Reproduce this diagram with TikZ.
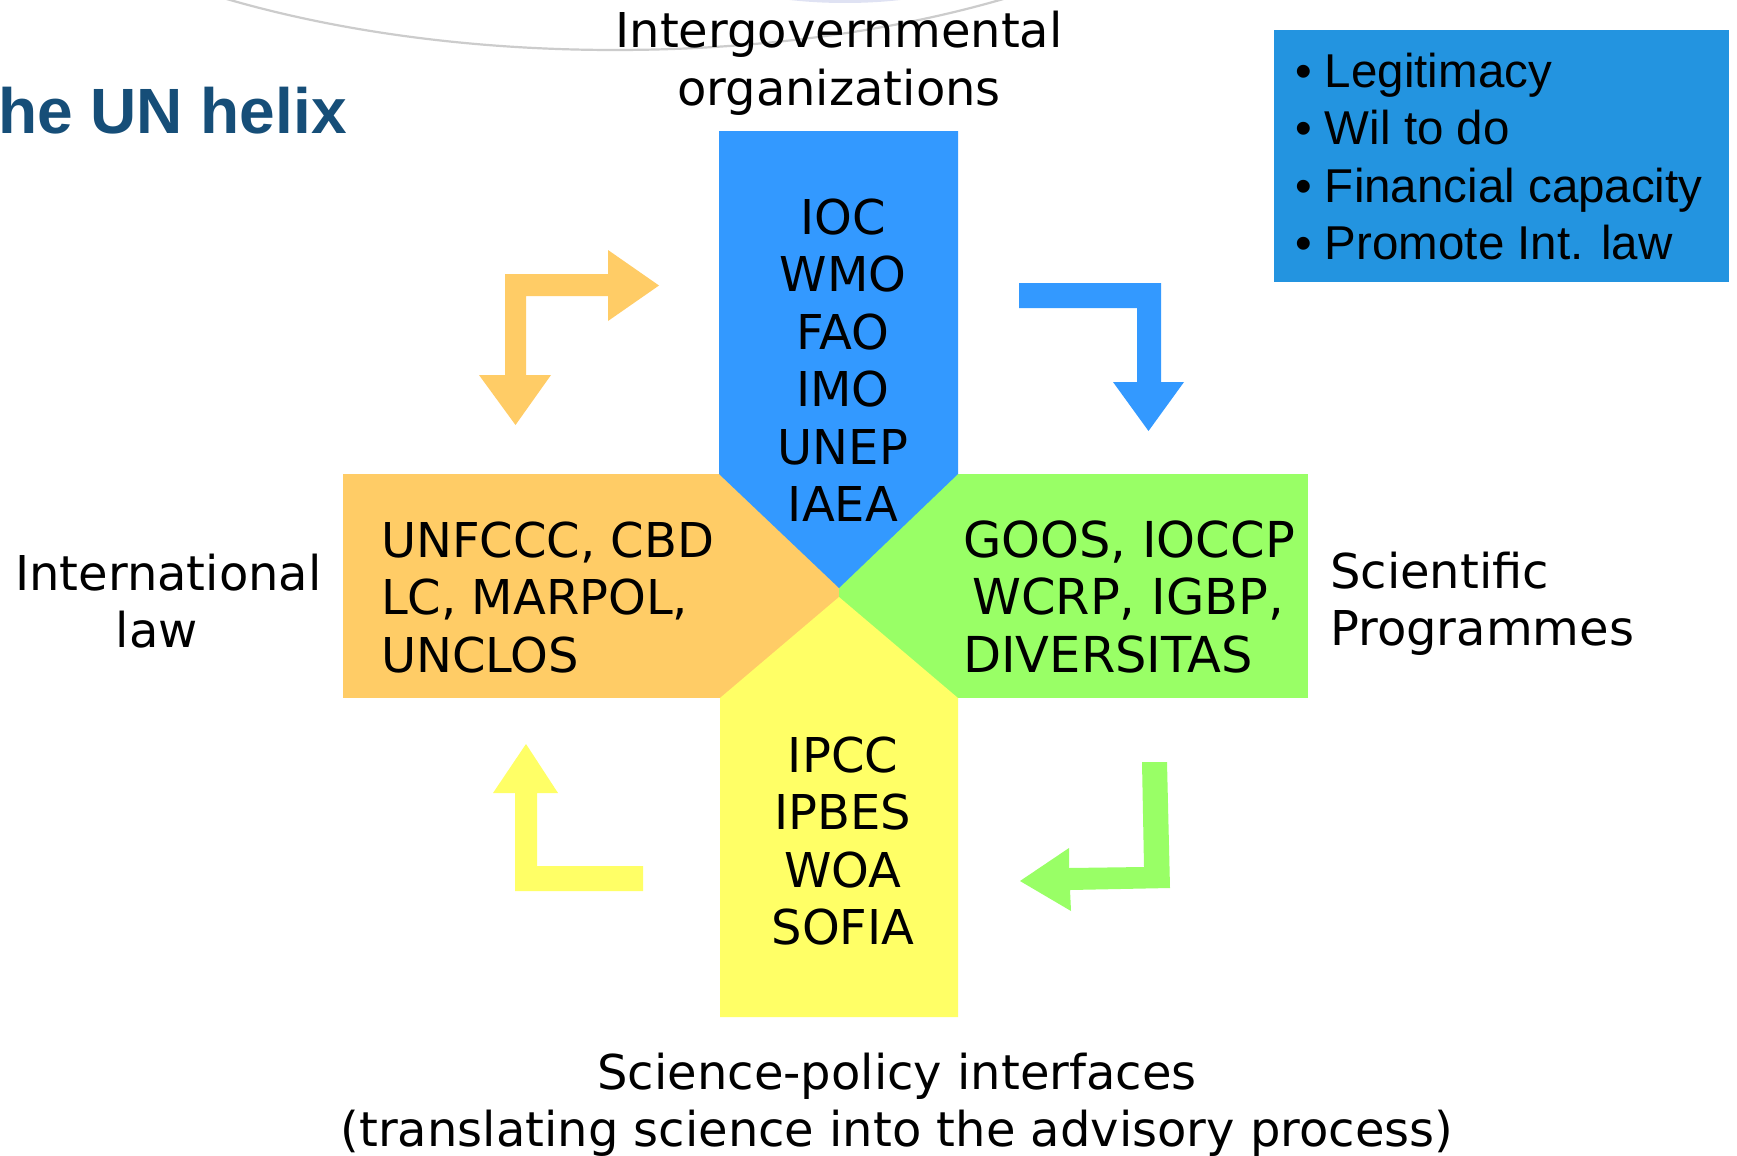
\documentclass[tikz,border=0pt]{standalone}
\usepackage{fontspec}
\setmainfont{DejaVu Sans}
\newfontfamily\arialfont{Liberation Sans}
\definecolor{govblue}{RGB}{51,153,255}
\definecolor{laworange}{RGB}{255,204,102}
\definecolor{scigreen}{RGB}{153,255,102}
\definecolor{spiyellow}{RGB}{255,255,102}
\definecolor{notebox}{RGB}{35,148,224}
\definecolor{titleblue}{RGB}{22,78,120}
\begin{document}
\begin{tikzpicture}[x=1pt,y=-1pt,
  lbl/.style={inner sep=0pt, anchor=base, font=\fontsize{48}{57.5}\selectfont},
  lblw/.style={lbl, anchor=base west},
  lblg/.style={lblw, font=\fontsize{49.5}{57.5}\selectfont},
  note/.style={inner sep=0pt, anchor=base west, font=\arialfont\fontsize{47.5}{57.5}\selectfont}]
\path[use as bounding box, fill=white] (0,0) rectangle (1737,1156);

% decorative arc at the top
\fill[cyan!30!blue!20, opacity=0.6] (845,-40) ellipse [x radius=150, y radius=43];
\draw[gray!40, line width=2.2pt] (615,-250) ellipse [x radius=696, y radius=300];

% title
\node[inner sep=0pt, anchor=base west, text=titleblue,
      font=\arialfont\bfseries\fontsize{64}{70}\selectfont] (title) at (-2,133) {he UN helix};

% the cross
\fill[laworange] (343,474) rectangle (839,698);
\fill[scigreen] (839,474) rectangle (1308,698);
\fill[govblue] (719,131) -- (958,131) -- (958,474) -- (839,588) -- (719,474) -- cycle;
\fill[spiyellow] (720,1017) -- (720,698) -- (839,597) -- (958,698) -- (958,1017) -- cycle;

% circulating arrows
\fill[laworange] (505,274) -- (608,274) -- (608,250) -- (659,285.5) -- (608,321) -- (608,296)
  -- (526,296) -- (526,375) -- (551,375) -- (515.5,425) -- (479,375) -- (505,375) -- cycle;
\fill[govblue] (1019,283) -- (1161,283) -- (1161,382) -- (1184,382) -- (1148.5,431)
  -- (1113,382) -- (1137,382) -- (1137,308) -- (1019,308) -- cycle;
\fill[scigreen] (1142,762) -- (1167,762) -- (1170,888) -- (1070,890) -- (1071,911)
  -- (1020,881) -- (1069,848) -- (1069,868) -- (1144,867) -- cycle;
\fill[spiyellow] (526,744) -- (558,793) -- (537,793) -- (537,866) -- (643,866) -- (643,891)
  -- (515,891) -- (515,793) -- (493,793) -- cycle;

% block contents
\foreach \t [count=\i from 0] in {IOC,WMO,FAO,IMO,UNEP,IAEA}
  \node[lbl] (gov\i) at (843,{234+57.5*\i}) {\t};
\foreach \t [count=\i from 0] in {{UNFCCC, CBD},{LC, MARPOL,},UNCLOS}
  \node[lblw] (law\i) at (381,{557+57.5*\i}) {\t};
\node[lblg] (sci0) at (963,557) {GOOS, IOCCP};
\node[lblg] (sci1) at (972,614.5) {WCRP, IGBP,};
\node[lblg] (sci2) at (963,672) {DIVERSITAS};
\foreach \t [count=\i from 0] in {IPCC,IPBES,WOA,SOFIA}
  \node[lbl] (spi\i) at (843,{772+57.5*\i}) {\t};

% arm captions
\node[lbl] (capgov0) at (839,48) {Intergovernmental};
\node[lbl] (capgov1) at (839,105.5) {organizations};
\node[lblw] (caplaw0) at (15,590) {International};
\node[lbl] (caplaw1) at (157,647) {law};
\node[lblw] (capsci0) at (1330,588) {Scientific};
\node[lblw] (capsci1) at (1330,645.5) {Programmes};
\node[lbl] (capspi0) at (897,1089) {Science-policy interfaces};
\node[lbl] (capspi1) at (897,1146.5) {(translating science into the advisory process)};

% side note
\fill[notebox] (1274,30) rectangle (1729,282);
\node[note] (note0) at (1295,87) {• Legitimacy};
\node[note] (note1) at (1295,144.5) {• Wil to do};
\node[note] (note2) at (1295,202) {• Financial capacity};
\node[note] (note3) at (1295,259.5) {• Promote Int. law};
\end{tikzpicture}
\end{document}
